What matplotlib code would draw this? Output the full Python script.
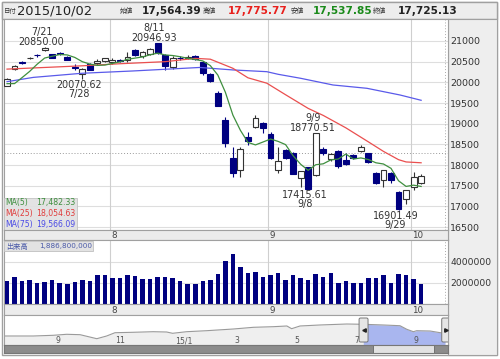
import numpy as np
import pandas as pd
import matplotlib.pyplot as plt
from matplotlib.patches import Rectangle, FancyBboxPatch

plt.rcParams['font.family'] = ['DejaVu Sans', 'Noto Sans CJK JP']

# daily candles, 2015/7/13 - 2015/10/02
dates = ['7/13', '7/14', '7/15', '7/16', '7/17', '7/21', '7/22', '7/23', '7/24', '7/27',
         '7/28', '7/29', '7/30', '7/31', '8/3', '8/4', '8/5', '8/6', '8/7', '8/10',
         '8/11', '8/12', '8/13', '8/14', '8/17', '8/18', '8/19', '8/20', '8/21', '8/24',
         '8/25', '8/26', '8/27', '8/28', '8/31', '9/1', '9/2', '9/3', '9/4', '9/7',
         '9/8', '9/9', '9/10', '9/11', '9/14', '9/15', '9/16', '9/17', '9/18', '9/24',
         '9/25', '9/28', '9/29', '9/30', '10/1', '10/2']
opens = [19920, 20330, 20500, 20590, 20660, 20780, 20680, 20720, 20610, 20380,
         20190, 20440, 20460, 20520, 20500, 20530, 20530, 20780, 20640, 20680,
         20940, 20660, 20380, 20600, 20600, 20640, 20500, 20200, 19740, 19090,
         18160, 17880, 18670, 18930, 19010, 18740, 17880, 18360, 18300, 17680,
         17946, 17760, 18400, 18140, 18340, 18110, 18240, 18350, 18280, 17800,
         17640, 17810, 17350, 17170, 17480, 17564.39]
highs = [20110, 20415, 20510, 20620, 20680, 20850.00, 20690, 20740, 20640, 20440,
         20345, 20460, 20560, 20600, 20580, 20560, 20740, 20800, 20750, 20830,
         20946.93, 20690, 20630, 20640, 20660, 20660, 20520, 20230, 19780, 19170,
         18440, 18440, 18810, 19210, 19050, 18800, 18440, 18400, 18320, 17860,
         17960, 18770.51, 18440, 18300, 18370, 18290, 18260, 18480, 18300, 17820,
         17890, 17830, 17380, 17390, 17840, 17775.77]
lows = [19900, 20300, 20440, 20560, 20620, 20750, 20580, 20670, 20530, 20300,
        20070.62, 20290, 20420, 20480, 20450, 20480, 20500, 20640, 20600, 20660,
        20680, 20310, 20330, 20540, 20560, 20540, 20180, 20010, 19430, 18440,
        17720, 17714, 18480, 18900, 18770, 18150, 17800, 18150, 17780, 17480,
        17415.61, 17740, 18250, 18100, 17930, 18000, 18140, 18320, 18050, 17530,
        17480, 17560, 16901.49, 17060, 17400, 17537.85]
closes = [20089.77, 20385.33, 20463.33, 20600.12, 20650.92, 20841.97, 20593.67, 20683.95, 20544.53, 20350.10,
          20328.89, 20302.91, 20522.83, 20585.24, 20548.11, 20520.36, 20614.06, 20664.44, 20724.56, 20808.69,
          20720.75, 20392.77, 20595.55, 20580.00, 20620.26, 20570.00, 20222.63, 20033.52, 19435.83, 18540.68,
          17806.70, 18376.83, 18574.44, 19136.32, 18890.48, 18165.69, 18095.40, 18182.39, 17792.16, 17860.47,
          17427.08, 18770.51, 18299.62, 18264.22, 17965.70, 18026.48, 18171.60, 18432.27, 18070.21, 17571.83,
          17880.51, 17645.11, 16930.84, 17388.15, 17722.42, 17725.13]
prev_closes = [20376.59, 19737.64, 19855.50, 19779.83]

# volume (thousand shares)
volumes = [2190000, 2572000, 2190000, 2254000, 2000000, 2095000, 2254000, 2000000, 1940000, 2063000,
           2254000, 2190000, 2730000, 2730000, 2508000, 2508000, 2730000, 2635000, 2413000, 2349000,
           2572000, 2572000, 2508000, 2190000, 1873000, 1873000, 2190000, 2254000, 2889000, 4063000,
           4794000, 3524000, 2953000, 3048000, 2572000, 2794000, 2990000, 2324000, 2794000, 2508000,
           2324000, 2889000, 2572000, 2953000, 2000000, 2190000, 2032000, 2032000, 2476000, 2508000,
           2730000, 2032000, 2889000, 2730000, 2413000, 1886800]

# moving averages (25 / 75 day)
ma25_idx = [0, 5, 10, 15, 21, 25, 27, 30, 32, 34.5, 37, 40, 42, 45, 48, 50, 52, 53, 55]
ma25_val = [20320, 20360, 20400, 20450, 20500, 20580, 20560, 20340, 20110, 19980,
            19700, 19370, 19200, 18900, 18560, 18330, 18130, 18075, 18054.63]
ma75_idx = [0, 3.5, 10, 16.7, 21, 25.6, 30, 34.5, 36, 39, 43.3, 47.8, 52.2, 55]
ma75_val = [20016, 20120, 20220, 20275, 20316, 20360, 20300, 20258, 20195, 20098,
            19936, 19856, 19694, 19566.09]

hi_marks = ['7/21', '8/11', '9/9']
lo_marks = ['7/28', '9/8', '9/29']

# navigator: months since 2014/7/1
nav_month = [0.26, 1.26, 1.93, 2.38, 2.83, 3.39, 3.72, 4.0, 4.61, 5.28, 5.73, 5.93, 6.40,
             7.07, 7.97, 8.64, 9.31, 9.76, 9.92, 10.2, 10.87, 11.77, 12.32, 12.99, 13.55,
             13.78, 14.0, 14.11, 14.56, 14.9, 15.06]
nav_value = [15300, 15300, 15620, 16080, 15900, 14060, 15300, 16810, 17000, 17270, 17130,
             16540, 17270, 17730, 18510, 19290, 19570, 19890, 18650, 19890, 20350, 20800,
             20670, 20350, 20020, 18370, 17270, 17730, 17590, 16810, 16540]
nav_labels = ['9', '11', '15/1', '3', '5', '7', '9']
nav_label_month = [2, 4, 6, 8, 10, 12, 14]
window = [12.33, 15.1]

W, H = 500, 359
fig = plt.figure(figsize=(W / 100, H / 100), dpi=100)


def rect(x0, y0, x1, y1):
    return [x0 / W, 1 - y1 / H, (x1 - x0) / W, (y1 - y0) / H]


n = len(dates)
x = np.arange(n)
o, h, l, c = map(np.array, (opens, highs, lows, closes))
ma5 = pd.Series(prev_closes + closes).rolling(5).mean().values[4:]
month_of = [d.split('/')[0] for d in dates]
month_start = [i for i in range(n) if i == 0 or month_of[i] != month_of[i - 1]][1:]
xlim = (-0.4, 58.57)
grid_c = '#dedede'
navy = '#000080'

# background / frames
bg = fig.add_axes([0, 0, 1, 1])
bg.set_xlim(0, W)
bg.set_ylim(H, 0)
bg.axis('off')
bg.add_patch(Rectangle((2, 2), 495, 353, fc='white', ec='#a0a0a0', lw=1))
bg.add_patch(Rectangle((2, 2), 495, 17, fc='#ededed', ec='#a0a0a0', lw=1))
bg.add_patch(Rectangle((448, 19), 49, 336, fc='#eeeeee', ec='#a0a0a0', lw=0.8))

hy = 10.5
bg.text(3.5, hy, '日付', fontsize=4.6, va='center', color='#333333')
bg.text(17, hy, '2015/10/02', fontsize=9.4, va='center', color='#222222')
for lx, lab, vx, val, col in [(120, '始値', 142, opens[-1], '#222222'),
                              (203, '高値', 228, highs[-1], '#e8201c'),
                              (291, '安値', 313, lows[-1], '#1a8a1a'),
                              (373, '終値', 398, closes[-1], '#222222')]:
    bg.text(lx, hy, lab, fontsize=4.8, va='center', color='#333333')
    bg.text(vx, hy, f'{val:,.2f}', fontsize=7.6, fontweight='bold', va='center', color=col)

# main price panel
ax = fig.add_axes(rect(4, 19, 448, 230))
ax.set_xlim(*xlim)
ax.set_ylim(16429, 21532)
ax.set_yticks(range(16500, 21001, 500))
ax.yaxis.tick_right()
ax.tick_params(axis='y', length=0, pad=1.5, labelsize=6.8, labelcolor='#333333')
ax.set_xticks([])
ax.yaxis.grid(True, color=grid_c, lw=0.8)
ax.set_axisbelow(True)
for s in ax.spines.values():
    s.set_color('#a0a0a0')
    s.set_linewidth(0.8)
for m in month_start:
    ax.axvline(m - 0.3, color='#cfcfcf', lw=0.8, zorder=1)
ax.axhline(18280, color='#999999', ls=(0, (1, 2)), lw=0.7, zorder=1)
ax.axvline(n + 2.2, color='#aaaaaa', ls=(0, (1, 2)), lw=0.7, zorder=1)

up = c >= o
body_lo = np.minimum(o, c)
body_h = np.abs(c - o)
ax.vlines(x[up], l[up], h[up], color='#333333', lw=0.8, zorder=3)
ax.vlines(x[~up], l[~up], h[~up], color=navy, lw=0.8, zorder=3)
ax.bar(x[up], body_h[up], 0.78, bottom=body_lo[up], facecolor='white', edgecolor='#333333', lw=0.8, zorder=4)
ax.bar(x[~up], body_h[~up], 0.78, bottom=body_lo[~up], facecolor=navy, edgecolor=navy, lw=0.8, zorder=4)

ax.plot(ma75_idx, ma75_val, color='#5a5aea', lw=0.9, zorder=5)
ax.plot(ma25_idx, ma25_val, color='#ea4f4f', lw=0.9, zorder=5)
ax.plot(x, ma5, color='#3f8f3f', lw=0.9, zorder=5)

for d in hi_marks:
    i = dates.index(d)
    ax.annotate(f'{h[i]:.2f}', (i, h[i]), xytext=(-2.2, 4), textcoords='offset points',
                ha='center', va='center', fontsize=6.9, color='#333333', zorder=6)
    ax.annotate(d, (i, h[i]), xytext=(-2.2, 11), textcoords='offset points',
                ha='center', va='center', fontsize=6.9, color='#333333', zorder=6)
for d in lo_marks:
    i = dates.index(d)
    ax.annotate(f'{l[i]:.2f}', (i, l[i]), xytext=(-2.2, -4.3), textcoords='offset points',
                ha='center', va='center', fontsize=6.9, color='#333333', zorder=6)
    ax.annotate(d, (i, l[i]), xytext=(-2.2, -10.8), textcoords='offset points',
                ha='center', va='center', fontsize=6.9, color='#333333', zorder=6)

ax.add_patch(Rectangle((0, 0), 0.164, 0.152, transform=ax.transAxes, fc='#e2e2e2',
                       ec='#c0c0c0', lw=0.6, alpha=0.95, zorder=7))
for row, (name, val, col) in enumerate([('MA(5)', ma5[-1], '#3f8f3f'),
                                        ('MA(25)', ma25_val[-1], '#e03c3c'),
                                        ('MA(75)', ma75_val[-1], '#4a4ae6')]):
    yy = 0.129 - row * 0.052
    ax.text(0.003, yy, name, transform=ax.transAxes, fontsize=5.6, color=col, va='center', zorder=8)
    ax.text(0.161, yy, f'{val:,.2f}', transform=ax.transAxes, fontsize=5.6, color=col,
            va='center', ha='right', zorder=8)


def month_band(y0, y1):
    b = fig.add_axes(rect(4, y0, 448, y1))
    b.set_xlim(*xlim)
    b.set_ylim(0, 1)
    b.set_facecolor('#ececec')
    b.set_xticks([])
    b.set_yticks([])
    for s in b.spines.values():
        s.set_color('#a0a0a0')
        s.set_linewidth(0.8)
    for m in month_start:
        b.text(m - 0.15, 0.45, month_of[m], fontsize=6.3, color='#444444', va='center', ha='left')
    return b


month_band(230, 240)

# volume panel
vax = fig.add_axes(rect(4, 240, 448, 304))
vax.set_xlim(*xlim)
vax.set_ylim(0, 6095000)
vax.set_yticks([2000000, 4000000])
vax.set_yticklabels(['2000000', '4000000'])
vax.yaxis.tick_right()
vax.tick_params(axis='y', length=0, pad=1.5, labelsize=6.6, labelcolor='#333333')
vax.set_xticks([])
vax.yaxis.grid(True, color=grid_c, lw=0.8)
vax.set_axisbelow(True)
for s in vax.spines.values():
    s.set_color('#a0a0a0')
    s.set_linewidth(0.8)
for m in month_start:
    vax.axvline(m - 0.3, color='#cfcfcf', lw=0.8, zorder=1)
vax.axvline(n + 2.2, color='#aaaaaa', ls=(0, (1, 2)), lw=0.7, zorder=1)
vax.bar(x, volumes, 0.6, color=navy, zorder=3)
vax.add_patch(Rectangle((0, 0.83), 0.2, 0.155, transform=vax.transAxes, fc='#e2e2e2',
                        ec='#c0c0c0', lw=0.6, zorder=7))
vax.text(0.004, 0.905, '出来高', transform=vax.transAxes, fontsize=5.2, color='#4a5aa8', va='center', zorder=8)
vax.text(0.198, 0.905, f'{volumes[-1] * 1000:,}', transform=vax.transAxes, fontsize=5.2,
         color='#4a5aa8', va='center', ha='right', zorder=8)

month_band(304, 315)

# navigator
nav = fig.add_axes(rect(4, 315, 448, 345))
nav.set_xlim(0.28, 15.16)
nav.set_ylim(11170, 24930)
nav.set_xticks([])
nav.set_yticks([])
for s in nav.spines.values():
    s.set_color('#a0a0a0')
    s.set_linewidth(0.8)
nm = np.array(nav_month)
nv = np.array(nav_value)
nav.fill_between(nm, nv, 11170, color='#efefef', lw=0)
sel = (nm >= window[0] - 0.05)
nav.fill_between(nm, nv, 11170, where=sel, color='#a9b6ef', lw=0, interpolate=True)
nav.plot(nm, nv, color='#9a9a9a', lw=0.8)
for lab, m in zip(nav_labels, nav_label_month):
    nav.text(m + 0.02, 13200, lab, fontsize=5.6, color='#555555', ha='left', va='center')
for wx, mk in zip(window, ['<', '>']):
    nav.add_patch(FancyBboxPatch((wx - 0.15, 0.1), 0.3, 0.8, boxstyle='round,pad=0,rounding_size=0.05',
                                 transform=nav.get_xaxis_transform(), fc='#e6e6e6', ec='#777777',
                                 lw=0.7, zorder=5, mutation_aspect=1))
    nav.plot([wx], [0.5], marker=mk, ms=2.5, color='#222222', transform=nav.get_xaxis_transform(), zorder=6)

# scrollbar
scr = fig.add_axes(rect(4, 345, 448, 353))
scr.set_xlim(0.28, 15.16)
scr.set_ylim(0, 1)
scr.set_facecolor('#8c8c8c')
scr.set_xticks([])
scr.set_yticks([])
for s in scr.spines.values():
    s.set_color('#777777')
    s.set_linewidth(0.8)
scr.add_patch(Rectangle((window[0] + 0.3, 0.05), window[1] - window[0] - 0.7, 0.9,
                        fc='#e2e2e2', ec='#666666', lw=0.6))

fig.savefig('out.png', dpi=100)
